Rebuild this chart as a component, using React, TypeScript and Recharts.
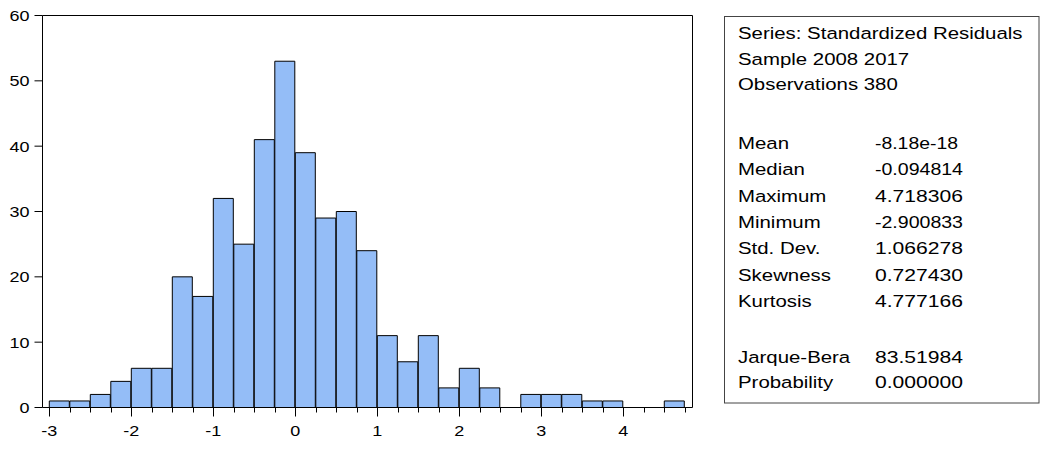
import { Bar, BarChart, ReferenceLine, XAxis, YAxis } from "recharts";

// histogram of standardized residuals, bins of 0.25 starting at -3
const binStarts = [
  -3, -2.75, -2.5, -2.25, -2, -1.75, -1.5, -1.25, -1, -0.75, -0.5, -0.25, 0, 0.25, 0.5, 0.75,
  1, 1.25, 1.5, 1.75, 2, 2.25, 2.5, 2.75, 3, 3.25, 3.5, 3.75, 4, 4.25, 4.5,
];
const counts = [
  1, 1, 2, 4, 6, 6, 20, 17, 32, 25, 41, 53, 39, 29, 30, 24, 11, 7, 11, 3, 6, 3, 0, 2, 2, 2, 1,
  1, 0, 0, 1,
];
const binWidth = 0.25;
const yTicks = [0, 10, 20, 30, 40, 50, 60];

const headerLines = ["Series: Standardized Residuals", "Sample 2008 2017", "Observations 380"];
const statLabels = ["Mean", "Median", "Maximum", "Minimum", "Std. Dev.", "Skewness", "Kurtosis"];
const statValues = ["-8.18e-18", "-0.094814", "4.718306", "-2.900833", "1.066278", "0.727430", "4.777166"];
const testLabels = ["Jarque-Bera", "Probability"];
const testValues = ["83.51984", "0.000000"];

const rows = binStarts.map((start, i) => ({ mid: start + binWidth / 2, count: counts[i] }));
const xTicks = [...binStarts, binStarts[binStarts.length - 1] + binWidth];
const xDomain: [number, number] = [-3.083, 4.844];
const yDomain: [number, number] = [0, 60];

const FONT = "'Liberation Sans', Arial, sans-serif";

function XTick(props: any) {
  const { x, y, payload } = props;
  const major = Number.isInteger(payload.value);
  const lx = Math.round(x) + 0.5;
  return (
    <g>
      <line x1={lx} x2={lx} y1={y} y2={y + (major ? 9 : 5)} stroke="#000" />
      {major ? (
        <text
          transform={`translate(${x},${y + 28}) scale(1.2,1)`}
          textAnchor="middle"
          fontSize={15}
          fontFamily={FONT}
          fill="#000"
        >
          {payload.value}
        </text>
      ) : null}
    </g>
  );
}

function YTick(props: any) {
  const { x, y, payload } = props;
  return (
    <text
      transform={`translate(${x},${y + 5.5}) scale(1.2,1)`}
      textAnchor="end"
      fontSize={15}
      fontFamily={FONT}
      fill="#000"
    >
      {payload.value}
    </text>
  );
}

function StatsBox() {
  const labelX = 738;
  const valueX = 875;
  const line = (label: string, y: number, key: string) => (
    <text
      key={key}
      transform={`translate(${labelX},${y}) scale(1.2,1)`}
      fontSize={17}
      fontFamily={FONT}
      fill="#000"
    >
      {label}
    </text>
  );
  const value = (v: string, y: number, key: string) => (
    <text
      key={key}
      x={valueX}
      y={y}
      fontSize={17}
      fontFamily={FONT}
      fill="#000"
      textLength={v.includes("e") ? 83 : 88}
      lengthAdjust="spacingAndGlyphs"
    >
      {v}
    </text>
  );
  return (
    <svg
      width={1041}
      height={450}
      style={{ position: "absolute", left: 0, top: 0, pointerEvents: "none" }}
    >
      <rect x={724.5} y={16.5} width={314.5} height={386.5} fill="none" stroke="#444" />
      {headerLines.map((t, i) => line(t, [39, 64.5, 90][i], `h${i}`))}
      {statLabels.map((t, i) => line(t, 149 + i * 26.3, `sl${i}`))}
      {statValues.map((v, i) => value(v, 149 + i * 26.3, `sv${i}`))}
      {testLabels.map((t, i) => line(t, [362.5, 388][i], `tl${i}`))}
      {testValues.map((v, i) => value(v, [362.5, 388][i], `tv${i}`))}
    </svg>
  );
}

export default function App() {
  return (
    <div
      style={{
        position: "absolute",
        left: 0,
        top: 0,
        width: 1041,
        height: 450,
        background: "#fff",
        fontFamily: FONT,
      }}
    >
      <BarChart
        width={700}
        height={450}
        data={rows}
        margin={{ top: 15.5, right: 7.5, bottom: 12.5, left: 0.5 }}
        barCategoryGap={0}
        barGap={0}
      >
        <XAxis
          xAxisId="b"
          dataKey="mid"
          type="number"
          domain={xDomain}
          allowDataOverflow
          ticks={xTicks}
          interval={0}
          tick={<XTick />}
          tickLine={false}
          tickSize={0}
          tickMargin={0}
          height={30}
          axisLine={{ stroke: "#000" }}
        />
        <YAxis
          yAxisId="l"
          domain={yDomain}
          allowDataOverflow
          ticks={yTicks}
          interval={0}
          width={42}
          tickSize={8}
          tickMargin={5}
          tickLine={{ stroke: "#000" }}
          axisLine={{ stroke: "#000" }}
          tick={<YTick />}
        />
        <Bar
          xAxisId="b"
          yAxisId="l"
          dataKey="count"
          fill="#94bdf7"
          stroke="#000"
          strokeWidth={1}
          isAnimationActive={false}
        />
        {/* frame: top and right edges of the plot box */}
        <ReferenceLine xAxisId="b" yAxisId="l" y={yDomain[1]} stroke="#000" ifOverflow="visible" />
        <ReferenceLine xAxisId="b" yAxisId="l" x={xDomain[1]} stroke="#000" ifOverflow="visible" />
      </BarChart>
      <StatsBox />
    </div>
  );
}
